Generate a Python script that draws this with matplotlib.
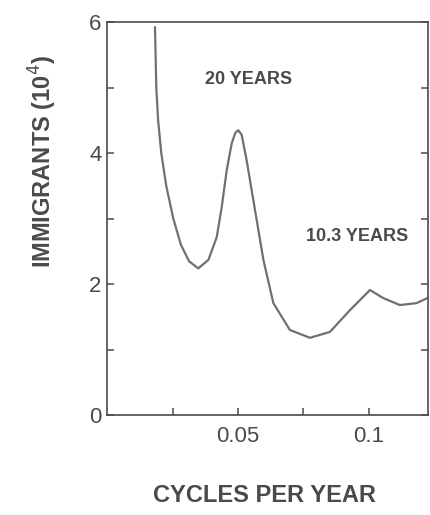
import numpy as np
import matplotlib.pyplot as plt

plt.rcParams['font.family'] = ['Liberation Sans', 'DejaVu Sans']

# czestotliwosc (cykle/rok) i liczba imigrantow (10^4)
freq = [0.0183, 0.0188, 0.0195, 0.0207, 0.0226, 0.0253, 0.0282, 0.0313, 0.0348,
        0.0387, 0.0419, 0.0438, 0.0457, 0.0476, 0.0490, 0.0501, 0.0514, 0.0533,
        0.0565, 0.0597, 0.0635, 0.0698, 0.0775, 0.0851, 0.0927, 0.1004, 0.1053,
        0.1118, 0.1182, 0.1225]
immigrants = [5.92, 5.00, 4.50, 4.00, 3.50, 3.00, 2.60, 2.35, 2.24,
              2.37, 2.72, 3.18, 3.74, 4.15, 4.31, 4.35, 4.28, 3.89,
              3.13, 2.37, 1.71, 1.30, 1.18, 1.27, 1.60, 1.91, 1.79,
              1.68, 1.71, 1.79]

x_major = [0.05, 0.1]
x_minor = [0.025, 0.075]
y_major = [0, 2, 4, 6]
y_minor = [1, 3, 5]

ink = '#4a4a4a'

fig = plt.figure(figsize=(4.3, 5.15), dpi=100)
ax = fig.add_axes([0.249, 0.194, 0.746, 0.763])

ax.plot(freq, immigrants, color='#707070', lw=1.6)

ax.set_xlim(0, 0.1225)
ax.set_ylim(0, 6)
ax.set_xticks(x_major)
ax.set_xticklabels(['0.05', '0.1'])
ax.set_xticks(x_minor, minor=True)
ax.set_yticks(y_major)
ax.set_yticks(y_minor, minor=True)

ax.tick_params(which='both', direction='in', color=ink, width=1.1, right=True,
               labelcolor=ink, labelsize=16, length=5)
ax.tick_params(axis='x', pad=8)
ax.tick_params(axis='y', pad=4)

for s in ax.spines.values():
    s.set_color(ink)
    s.set_linewidth(1.2)

ax.text(0.0540, 5.12, '20 YEARS', ha='center', va='center', fontsize=13,
        fontweight='bold', color=ink)
ax.text(0.0955, 2.72, '10.3 YEARS', ha='center', va='center', fontsize=13,
        fontweight='bold', color=ink)

fig.text(264 / 430, 1 - 495 / 515, 'CYCLES PER YEAR', ha='center', va='center',
         fontsize=17, fontweight='bold', color=ink)
fig.text(43 / 430, 1 - 161 / 515, 'IMMIGRANTS (10$^4$)', ha='center',
         va='center', rotation=90, fontsize=17, fontweight='bold', color=ink)

fig.savefig('out.png', dpi=100)
